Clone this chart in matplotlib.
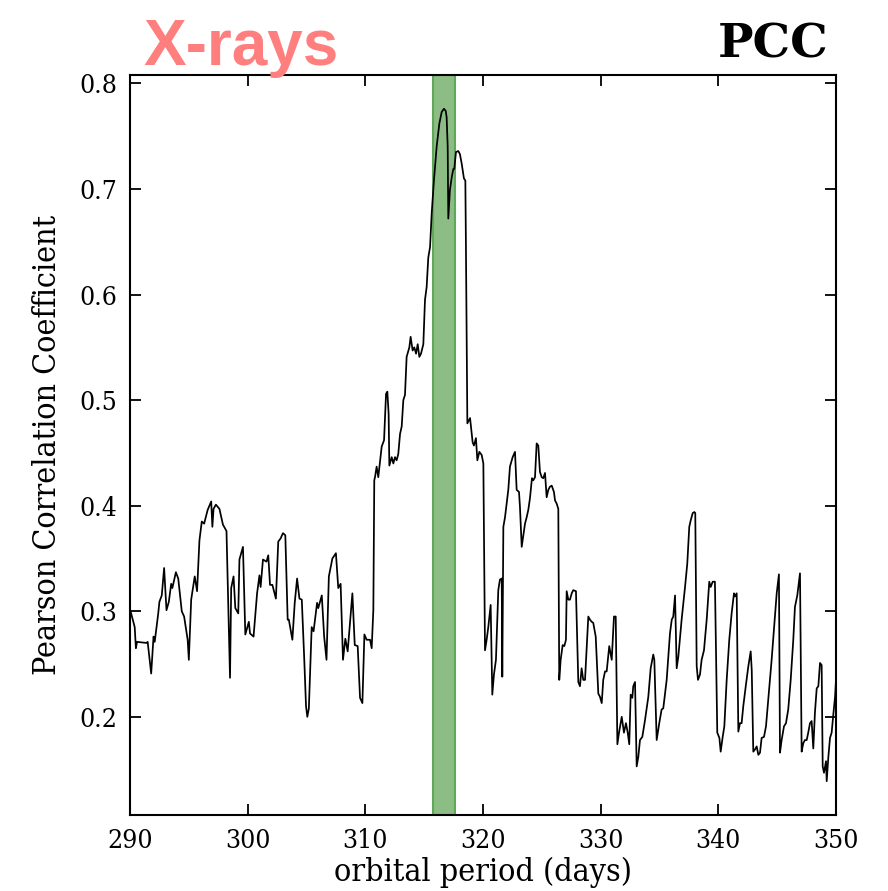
import numpy as np
import matplotlib
matplotlib.use("Agg")
import matplotlib.pyplot as plt
from matplotlib import font_manager

# orbital period trial values (days) and Pearson correlation coefficient
period = [290.05, 290.4, 290.5, 290.6, 291.4, 291.5, 291.8, 292.0, 292.1, 292.4,
          292.5, 292.7, 292.9, 293.1, 293.3, 293.5, 293.6, 293.9, 294.1, 294.4,
          294.6, 294.9, 295.0, 295.2, 295.5, 295.7, 295.9, 296.1, 296.3, 296.6,
          296.9, 297.0, 297.1, 297.3, 297.6, 297.9, 298.2, 298.5, 298.6, 298.8,
          298.95, 299.2, 299.3, 299.6, 299.8, 300.1, 300.2, 300.5, 300.8, 301.0,
          301.1, 301.3, 301.6, 301.75, 301.9, 302.1, 302.4, 302.6, 302.8, 303.0,
          303.2, 303.4, 303.5, 303.8, 304.0, 304.2, 304.4, 304.6, 304.8, 304.96,
          305.07, 305.2, 305.44, 305.6, 305.9, 306.0, 306.3, 306.5, 306.7, 306.9,
          307.2, 307.5, 307.7, 307.9, 308.1, 308.3, 308.5, 308.9, 309.1, 309.35,
          309.55, 309.75, 309.92, 310.11, 310.4, 310.54, 310.68, 310.76, 310.82, 310.96,
          311.1, 311.39, 311.59, 311.76, 311.87, 311.98, 312.04, 312.24, 312.38, 312.52,
          312.66, 312.8, 312.95, 313.09, 313.23, 313.37, 313.51, 313.74, 313.85, 314.02,
          314.16, 314.31, 314.45, 314.59, 314.73, 314.93, 315.07, 315.21, 315.35, 315.5,
          315.64, 315.83, 316.06, 316.29, 316.49, 316.68, 316.83, 316.91, 317.0, 317.05,
          317.19, 317.34, 317.48, 317.56, 317.7, 317.9, 318.04, 318.19, 318.38, 318.5,
          318.55, 318.67, 318.9, 319.12, 319.23, 319.4, 319.52, 319.69, 319.89, 320.03,
          320.17, 320.31, 320.45, 320.65, 320.79, 320.93, 321.1, 321.3, 321.44, 321.59,
          321.64, 321.73, 321.87, 322.01, 322.15, 322.29, 322.52, 322.72, 322.86, 323.06,
          323.14, 323.29, 323.42, 323.57, 323.71, 323.85, 323.99, 324.16, 324.27, 324.42,
          324.56, 324.7, 324.84, 324.99, 325.12, 325.27, 325.41, 325.55, 325.69, 325.84,
          326.03, 326.12, 326.26, 326.4, 326.48, 326.6, 326.77, 326.91, 327.05, 327.11,
          327.25, 327.39, 327.54, 327.67, 327.9, 328.1, 328.24, 328.38, 328.52, 328.67,
          328.95, 329.09, 329.24, 329.37, 329.58, 329.8, 329.94, 330.09, 330.22, 330.37,
          330.51, 330.73, 330.94, 331.13, 331.28, 331.42, 331.56, 331.79, 331.98, 332.15,
          332.3, 332.43, 332.55, 332.69, 332.77, 332.92, 333.06, 333.2, 333.34, 333.54,
          333.77, 334.05, 334.25, 334.47, 334.56, 334.76, 334.98, 335.18, 335.32, 335.61,
          335.89, 336.04, 336.17, 336.32, 336.46, 336.6, 336.88, 337.17, 337.36, 337.53,
          337.65, 337.82, 337.96, 338.04, 338.16, 338.27, 338.44, 338.58, 338.78, 339.01,
          339.23, 339.35, 339.52, 339.71, 339.91, 340.09, 340.2, 340.37, 340.51, 340.71,
          340.93, 341.13, 341.33, 341.41, 341.56, 341.7, 341.84, 341.98, 342.12, 342.33,
          342.55, 342.75, 342.84, 342.97, 343.11, 343.26, 343.4, 343.54, 343.68, 343.88,
          344.05, 344.24, 344.53, 344.81, 344.96, 345.15, 345.24, 345.38, 345.58, 345.75,
          345.94, 346.15, 346.37, 346.51, 346.71, 346.94, 347.08, 347.22, 347.36, 347.51,
          347.64, 347.79, 347.93, 348.07, 348.21, 348.36, 348.5, 348.64, 348.78, 348.87,
          348.98, 349.15, 349.21, 349.35, 349.49, 349.63, 349.77, 349.92, 350.0]

pcc = [0.300, 0.285, 0.265, 0.271, 0.270, 0.271, 0.241, 0.276, 0.271, 0.298,
       0.309, 0.315, 0.341, 0.301, 0.309, 0.326, 0.322, 0.337, 0.331, 0.300,
       0.295, 0.273, 0.254, 0.311, 0.333, 0.319, 0.367, 0.385, 0.383, 0.396,
       0.404, 0.380, 0.397, 0.401, 0.397, 0.382, 0.376, 0.237, 0.322, 0.333,
       0.303, 0.298, 0.349, 0.361, 0.278, 0.290, 0.279, 0.276, 0.317, 0.334,
       0.323, 0.349, 0.347, 0.353, 0.325, 0.325, 0.312, 0.366, 0.369, 0.374,
       0.372, 0.292, 0.292, 0.273, 0.308, 0.331, 0.312, 0.311, 0.257, 0.210,
       0.200, 0.208, 0.285, 0.281, 0.308, 0.303, 0.315, 0.276, 0.254, 0.333,
       0.350, 0.355, 0.322, 0.326, 0.254, 0.274, 0.262, 0.317, 0.268, 0.267,
       0.218, 0.213, 0.278, 0.273, 0.273, 0.265, 0.301, 0.424, 0.427, 0.437,
       0.427, 0.456, 0.462, 0.506, 0.508, 0.487, 0.438, 0.446, 0.440, 0.446,
       0.443, 0.449, 0.468, 0.475, 0.500, 0.505, 0.541, 0.550, 0.560, 0.547,
       0.550, 0.544, 0.553, 0.541, 0.544, 0.553, 0.595, 0.607, 0.635, 0.645,
       0.677, 0.708, 0.740, 0.762, 0.773, 0.776, 0.774, 0.768, 0.740, 0.672,
       0.699, 0.711, 0.719, 0.719, 0.735, 0.736, 0.733, 0.724, 0.710, 0.708,
       0.645, 0.478, 0.483, 0.460, 0.457, 0.464, 0.443, 0.451, 0.448, 0.440,
       0.263, 0.273, 0.285, 0.306, 0.221, 0.240, 0.254, 0.320, 0.330, 0.331,
       0.238, 0.380, 0.389, 0.402, 0.415, 0.437, 0.446, 0.451, 0.415, 0.413,
       0.399, 0.361, 0.371, 0.383, 0.389, 0.396, 0.407, 0.426, 0.424, 0.427,
       0.459, 0.457, 0.432, 0.427, 0.426, 0.431, 0.408, 0.415, 0.418, 0.419,
       0.413, 0.405, 0.402, 0.397, 0.235, 0.254, 0.268, 0.267, 0.273, 0.319,
       0.311, 0.311, 0.317, 0.320, 0.319, 0.233, 0.229, 0.246, 0.235, 0.235,
       0.295, 0.292, 0.290, 0.289, 0.276, 0.222, 0.219, 0.213, 0.235, 0.243,
       0.243, 0.267, 0.254, 0.295, 0.295, 0.174, 0.185, 0.200, 0.185, 0.194,
       0.185, 0.174, 0.221, 0.218, 0.229, 0.233, 0.153, 0.162, 0.178, 0.181,
       0.197, 0.219, 0.246, 0.259, 0.254, 0.178, 0.194, 0.207, 0.208, 0.235,
       0.279, 0.292, 0.295, 0.315, 0.246, 0.257, 0.292, 0.323, 0.345, 0.380,
       0.386, 0.393, 0.394, 0.393, 0.248, 0.235, 0.240, 0.254, 0.263, 0.292,
       0.328, 0.323, 0.328, 0.328, 0.185, 0.180, 0.167, 0.181, 0.191, 0.235,
       0.273, 0.298, 0.317, 0.314, 0.317, 0.186, 0.194, 0.194, 0.210, 0.229,
       0.248, 0.262, 0.244, 0.167, 0.169, 0.172, 0.164, 0.166, 0.180, 0.181,
       0.191, 0.216, 0.254, 0.295, 0.317, 0.335, 0.166, 0.178, 0.191, 0.194,
       0.207, 0.235, 0.273, 0.304, 0.315, 0.336, 0.167, 0.175, 0.178, 0.178,
       0.185, 0.194, 0.196, 0.170, 0.204, 0.227, 0.229, 0.251, 0.249, 0.153,
       0.147, 0.158, 0.139, 0.162, 0.180, 0.185, 0.202, 0.219, 0.235]

# best period band
band = (315.75, 317.6)
xticks = [290, 300, 310, 320, 330, 340, 350]
yticks = [0.2, 0.3, 0.4, 0.5, 0.6, 0.7, 0.8]

plt.rcParams['font.family'] = 'DejaVu Serif'

# the reference text looks narrow; use the condensed face if it is installed
fp = font_manager.FontProperties(family='DejaVu Serif', stretch='condensed')
have_cond = 'Condensed' in font_manager.findfont(fp, fallback_to_default=True)
if have_cond:
    plt.rcParams['font.stretch'] = 'condensed'
    tick_fs, lab_fs = 19, 23
else:
    tick_fs, lab_fs = 17, 20

fig = plt.figure(figsize=(8.88, 8.91), dpi=100)
ax = fig.add_axes([130/888, 1 - 815/891, 706/888, 740/891])

ax.axvspan(band[0], band[1], facecolor='#8cbd84', edgecolor='#5fa85a', lw=1.5, zorder=1)
ax.plot(period, pcc, color='black', lw=1.25, zorder=2)

ax.set_xlim(290, 350)
ax.set_ylim(0.107, 0.808)
ax.set_xticks(xticks)
ax.set_yticks(yticks)
ax.tick_params(direction='in', top=True, right=True, length=8, width=1.3,
               labelsize=tick_fs, pad=9)
for s in ax.spines.values():
    s.set_linewidth(1.5)

ax.set_xlabel('orbital period (days)', fontsize=lab_fs, labelpad=3)
ax.set_ylabel('Pearson Correlation Coefficient', fontsize=lab_fs, labelpad=12)

fig.text(143/888, 1 - 65/891, 'X-rays', color='#ff7f7f', fontsize=46,
         fontweight='bold', family='Liberation Sans', va='baseline', ha='left')
fig.text(828/888, 1 - 57/891, 'PCC', color='black', fontsize=34,
         fontweight='bold', fontstretch='normal', va='baseline', ha='right')

fig.savefig('out.png', dpi=100)
